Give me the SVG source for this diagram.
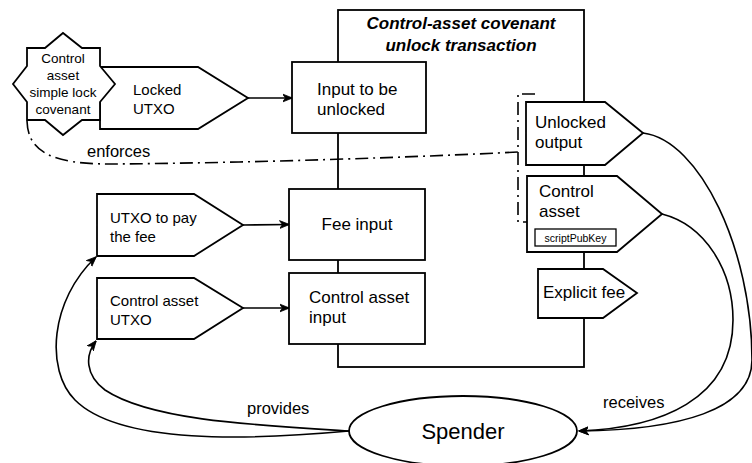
<svg xmlns="http://www.w3.org/2000/svg" width="752" height="463" viewBox="0 0 752 463">
  <style>
    .shape { fill: #ffffff; stroke: #000000; stroke-width: 1.8; stroke-linejoin: miter; }
    .frame { fill: #ffffff; stroke: #000000; stroke-width: 1.8; }
    .edge { fill: none; stroke: #000000; stroke-width: 1.6; }
    .dashdot { fill: none; stroke: #000000; stroke-width: 1.6; stroke-dasharray: 13 5 2 5; }
    text { font-family: "Liberation Sans", Arial, sans-serif; fill: #000000; }
    .t17 { font-size: 17px; }
    .t15 { font-size: 15px; }
    .t13 { font-size: 13.5px; }
    .lbl { font-size: 16.5px; }
    .title { font-size: 17px; font-weight: bold; font-style: italic; }
  </style>
  <defs>
    <marker id="arrow" viewBox="0 0 10 10" refX="9.5" refY="5" markerWidth="10" markerHeight="10" markerUnits="userSpaceOnUse" orient="auto">
      <path d="M0,1 L10,5 L0,9 L3,5 z" fill="#000000" stroke="#000000" stroke-width="0.8"/>
    </marker>
  </defs>

  <!-- transaction frame -->
  <g id="tx-frame">
    <rect class="frame" x="338" y="10" width="246" height="357"/>
    <text class="title" x="461" y="29" text-anchor="middle">Control-asset covenant</text>
    <text class="title" x="461" y="51" text-anchor="middle">unlock transaction</text>
  </g>

  <!-- connectors -->
  <g id="connectors">
    <path class="edge" d="M248 98 L292 98" marker-end="url(#arrow)"/>
    <path class="edge" d="M243 225 L289 224.5" marker-end="url(#arrow)"/>
    <path class="edge" d="M243 308 L289 308" marker-end="url(#arrow)"/>
    <!-- spender provides -->
    <path class="edge" d="M349 431 C250 440, 120 445, 75 400 C45 370, 50 300, 96 257" marker-end="url(#arrow)"/>
    <path class="edge" d="M349 431 C250 425, 150 420, 105 390 C85 375, 85 355, 96 341" marker-end="url(#arrow)"/>
    <!-- spender receives -->
    <path class="edge" d="M643 133 C700 140, 752 250, 752 360 C752 410, 680 430, 579 431" marker-end="url(#arrow)"/>
    <path class="edge" d="M662 214 C705 225, 733 270, 733 320 C733 400, 660 428, 579 431" marker-end="url(#arrow)"/>
    <!-- enforces -->
    <path class="dashdot" d="M27 121 C28 152, 52 164, 110 164 C250 163, 420 157, 518 152"/>
    <path class="dashdot" d="M535 94 L518 94 L518 222 L533 222"/>
    <text class="lbl" x="87" y="157">enforces</text>
    <text class="lbl" x="247" y="414">provides</text>
    <text class="lbl" x="603" y="408">receives</text>
  </g>

  <g id="locked-utxo">
    <polygon class="shape" points="100,67 198,67 248,98 198,129 100,129"/>
    <text class="t15" x="133" y="95">Locked</text>
    <text class="t15" x="133" y="114">UTXO</text>
  </g>

  <g id="covenant">
    <polygon class="shape" points="27,48 45,48 63,33 82,48 100,48 100,66 115,84 100,102 100,120 82,120 63,135 45,120 27,120 27,102 13,84 27,66"/>
    <text class="t13" x="63" y="63" text-anchor="middle">Control</text>
    <text class="t13" x="63" y="80" text-anchor="middle">asset</text>
    <text class="t13" x="63" y="97" text-anchor="middle">simple lock</text>
    <text class="t13" x="63" y="114" text-anchor="middle">covenant</text>
  </g>

  <g id="fee-utxo">
    <polygon class="shape" points="97,194 194,194 243,225 194,256 97,256"/>
    <text class="t15" x="110" y="223">UTXO to pay</text>
    <text class="t15" x="110" y="242">the fee</text>
  </g>

  <g id="control-utxo">
    <polygon class="shape" points="97,278 194,278 243,308 194,339 97,339"/>
    <text class="t15" x="110" y="306">Control asset</text>
    <text class="t15" x="110" y="325">UTXO</text>
  </g>

  <g id="input-unlocked">
    <rect class="shape" x="292" y="62" width="134" height="71"/>
    <text class="t17" x="317" y="95">Input to be</text>
    <text class="t17" x="317" y="115">unlocked</text>
  </g>

  <g id="fee-input">
    <rect class="shape" x="289" y="189" width="136" height="71"/>
    <text class="t17" x="357" y="230" text-anchor="middle">Fee input</text>
  </g>

  <g id="control-input">
    <rect class="shape" x="289" y="273" width="136" height="71"/>
    <text class="t17" x="309" y="303">Control asset</text>
    <text class="t17" x="309" y="323">input</text>
  </g>

  <g id="unlocked-output">
    <polygon class="shape" points="526,102 605,102 643,133 605,165 526,165"/>
    <text class="t17" x="535" y="128">Unlocked</text>
    <text class="t17" x="535" y="148">output</text>
  </g>

  <g id="control-output">
    <polygon class="shape" points="527,176 617,176 662,214 617,252 527,252"/>
    <text class="t17" x="539" y="197">Control</text>
    <text class="t17" x="539" y="217">asset</text>
    <rect x="535" y="229" width="81" height="17" fill="#ffffff" stroke="#000000" stroke-width="1.3"/>
    <text x="575.5" y="241.5" font-size="10.5" text-anchor="middle">scriptPubKey</text>
  </g>

  <g id="explicit-fee">
    <polygon class="shape" points="538,269 603,269 637,293 603,318 538,318"/>
    <text class="t17" x="543" y="298">Explicit fee</text>
  </g>

  <g id="spender">
    <ellipse class="shape" cx="463" cy="431" rx="114" ry="35"/>
    <text x="463" y="439" font-size="22" text-anchor="middle">Spender</text>
  </g>
</svg>
